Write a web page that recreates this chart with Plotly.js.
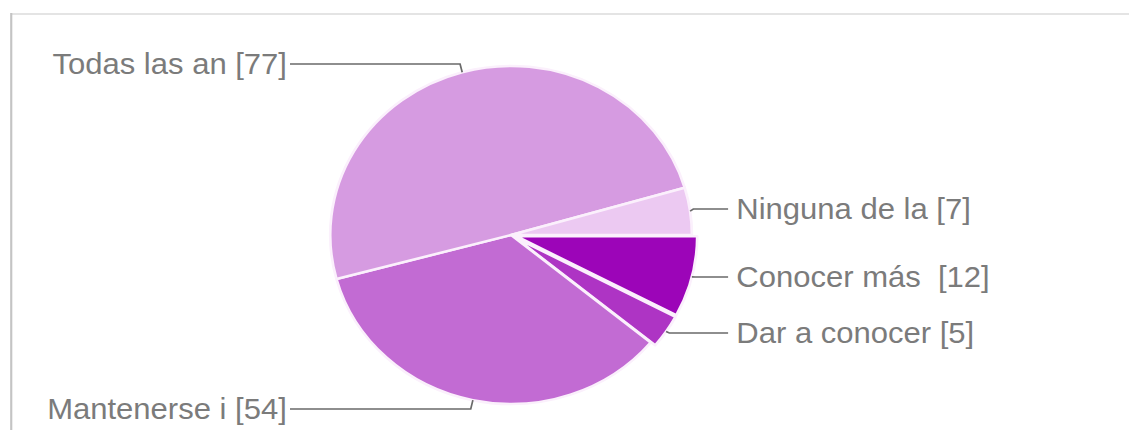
<!DOCTYPE html>
<html><head><meta charset="utf-8">
<script src="https://cdn.plot.ly/plotly-3.0.1.min.js"></script>
<style>
html,body{margin:0;padding:0;background:#fff;overflow:hidden}
#wrap{width:1129px;height:430px;overflow:hidden;position:relative}
#chart{width:1055px;height:430px;transform:scaleX(1.0701);transform-origin:0 0}
</style>
</head><body><div id="wrap"><div id="chart"></div></div>
<script>
// ---- data ----
const categories = ['Conocer más\u00a0', 'Dar a conocer', 'Mantenerse i', 'Todas las an', 'Ninguna de la'];
const values = [12, 5, 54, 77, 7];
const colors = ['#9c05b8', '#ae34c4', '#c26bd3', '#d69be1', '#ecc9f2'];
const pulls = [0.03, 0.03, 0, 0, 0];
// label vertical positions (layout, px in chart space)
const labelY = [277, 333, 409, 64, 209];

// ---- layout geometry ----
const W = 1055, H = 430;
const domX = [0.2877, 0.6177], domY = [0.0486, 0.8584];
const maxPull = Math.max(...pulls);
const boxW = W * (domX[1] - domX[0]), boxH = H * (domY[1] - domY[0]);
const r = Math.min(boxW, boxH) / (2 + 2 * maxPull);
const cx = W * (domX[0] + domX[1]) / 2;
const cy = H * (1 - domY[0]) - boxH / 2;
const rightLineEnd = 680.4, rightText = 686.6, leftLineStart = 271, leftText = 268.5;

const total = values.reduce((a, b) => a + b, 0);
const px = x => x / W, py = y => 1 - y / H;

const shapes = [
  {type: 'line', xref: 'paper', yref: 'paper', x0: px(10.5), x1: 1.02, y0: py(14), y1: py(14), line: {color: '#e4e4e4', width: 2}},
  {type: 'line', xref: 'paper', yref: 'paper', x0: px(10.5), x1: px(10.5), y0: py(13), y1: -0.05, line: {color: '#c4c4c4', width: 2}}
];
const annotations = [];
let cum = 0;
values.forEach((v, i) => {
  const mid = (cum + v / 2) / total * 2 * Math.PI; // clockwise from 3 o'clock
  cum += v;
  const R = r * (1 + pulls[i]);
  const ax = cx + R * Math.cos(mid), ay = cy + R * Math.sin(mid);
  const right = Math.cos(mid) > 0.3;
  const ly = labelY[i];
  const bx = ax + (right ? 3 : -2);
  const ex = right ? rightLineEnd : leftLineStart;
  shapes.push({
    type: 'path', xref: 'paper', yref: 'paper',
    path: `M ${px(ax)},${py(ay)} L ${px(bx)},${py(ly)} L ${px(ex)},${py(ly)}`,
    line: {color: '#6a6a6a', width: 1.6}
  });
  annotations.push({
    xref: 'paper', yref: 'paper', showarrow: false,
    x: px(right ? rightText : leftText), y: py(ly),
    xanchor: right ? 'left' : 'right', yanchor: 'middle', borderpad: 0,
    text: categories[i] + ' [' + v + ']',
    font: {family: 'Liberation Sans, Arial, sans-serif', size: 29, color: '#7b7b7b'}
  });
});

Plotly.newPlot('chart', [{
  type: 'pie', labels: categories, values: values, sort: false,
  direction: 'clockwise', rotation: 90, pull: pulls,
  marker: {colors: colors, line: {color: '#fbf0fc', width: 2.5}},
  textinfo: 'none', hoverinfo: 'none', showlegend: false,
  domain: {x: domX, y: domY}
}], {
  width: W, height: H, margin: {l: 0, r: 0, t: 0, b: 0},
  paper_bgcolor: '#ffffff', plot_bgcolor: '#ffffff',
  showlegend: false, shapes: shapes, annotations: annotations
}, {displayModeBar: false, staticPlot: true});
</script></body></html>
